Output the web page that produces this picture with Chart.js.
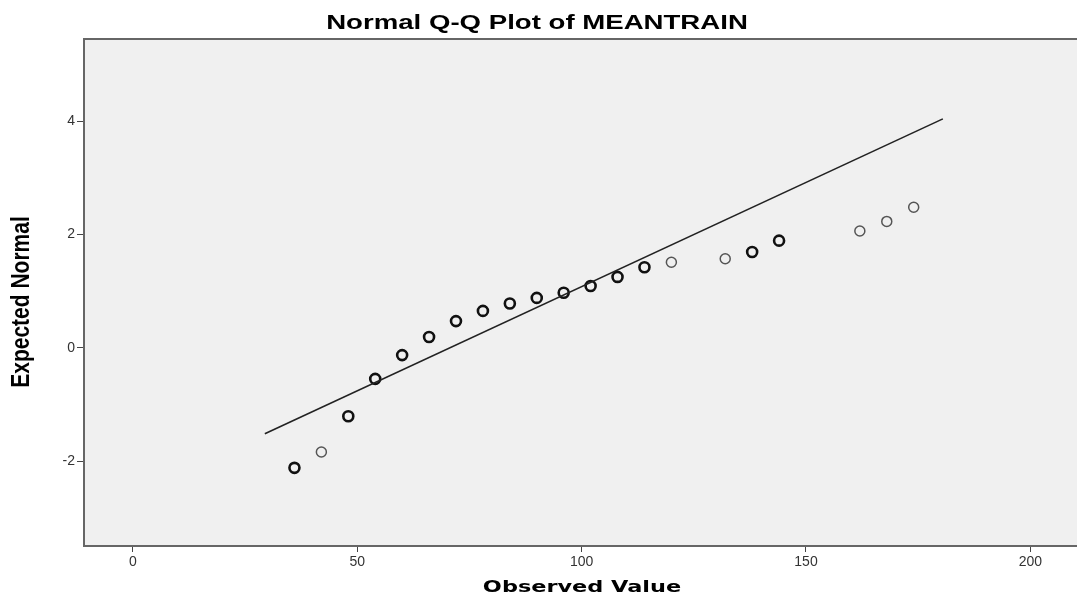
<!DOCTYPE html>
<html>
<head>
<meta charset="utf-8">
<script src="https://cdn.jsdelivr.net/npm/chart.js@4.4.0/dist/chart.umd.min.js"></script>
<style>
  html, body { margin: 0; padding: 0; background: #fff; }
  #wrap { width: 1077px; height: 598px; position: relative; }
</style>
</head>
<body>
<div id="wrap"><canvas id="qq"></canvas></div>
<script>
const observed = [36, 42, 48, 54, 60, 66, 72, 78, 84, 90, 96, 102, 108, 114, 120, 132, 138, 144, 162, 168, 174];
const expected = [-2.12, -1.84, -1.21, -0.55, -0.13, 0.19, 0.47, 0.65, 0.78, 0.88, 0.97, 1.09, 1.25, 1.42, 1.51, 1.57, 1.69, 1.89, 2.06, 2.23, 2.48];
// points drawn lighter (single cases)
const lightPoint = [false, true, false, false, false, false, false, false, false, false, false, false, false, false, true, true, false, false, true, true, true];
// reference line end points
const lineX = [29.4, 180.5];
const lineY = [-1.52, 4.04];
const xTicks = [0, 50, 100, 150, 200];
const yTicks = [-2, 0, 2, 4];

const ctx = document.getElementById('qq').getContext('2d');

const points = observed.map((v, i) => ({ x: v, y: expected[i] }));
const line = lineX.map((v, i) => ({ x: v, y: lineY[i] }));

// text is a bit stretched sideways in the original
function stretchedText(c, text, x, y, font, sx, sy, rot) {
    c.save();
    c.translate(x, y);
    if (rot) c.rotate(rot);
    c.scale(sx, sy);
    c.font = font;
    c.fillStyle = '#000';
    c.textAlign = 'center';
    c.textBaseline = 'middle';
    c.fillText(text, 0, 0);
    c.restore();
}

// plot background, frame and the titles
const frame = {
    id: 'frame',
    beforeDatasetsDraw(chart) {
        const a = chart.chartArea;
        const c = chart.ctx;
        c.save();
        c.fillStyle = '#f0f0f0';
        c.fillRect(a.left, a.top, chart.width - a.left, a.bottom - a.top);
        c.restore();
    },
    afterDatasetsDraw(chart) {
        const a = chart.chartArea;
        const c = chart.ctx;
        c.save();
        c.strokeStyle = '#666';
        c.lineWidth = 2;
        c.beginPath();
        c.moveTo(chart.width, a.top);
        c.lineTo(a.left, a.top);
        c.lineTo(a.left, a.bottom);
        c.lineTo(chart.width, a.bottom);
        c.stroke();
        c.restore();
        stretchedText(c, 'Normal Q-Q Plot of MEANTRAIN', 537, 23, 'bold 20px "Liberation Sans", Arial, sans-serif', 1.38, 1, 0);
        stretchedText(c, 'Observed Value', 582, 588, 'bold 16px "DejaVu Sans", Verdana, sans-serif', 1.4, 1, 0);
        stretchedText(c, 'Expected Normal', 22, 302, 'bold 21px "Liberation Sans", Arial, sans-serif', 1, 1.2, -Math.PI / 2);
    }
};

new Chart(ctx, {
    data: {
        datasets: [{
            type: 'line',
            data: line,
            borderColor: '#222',
            borderWidth: 1.6,
            pointRadius: 0,
            fill: false
        },
        {
            type: 'scatter',
            data: points,
            pointStyle: 'circle',
            pointRadius: 5,
            backgroundColor: 'rgba(0,0,0,0)',
            borderColor: lightPoint.map(l => l ? '#555' : '#111'),
            borderWidth: lightPoint.map(l => l ? 1.5 : 2.6)
        }]
    },
    options: {
        responsive: true,
        maintainAspectRatio: false,
        animation: false,
        layout: { padding: { top: 39, right: 0, left: 0, bottom: 0 } },
        plugins: {
            legend: { display: false },
            tooltip: { enabled: false }
        },
        scales: {
            x: {
                type: 'linear',
                min: -10.9,
                max: 208.7,
                afterBuildTicks: axis => { axis.ticks = xTicks.map(v => ({ value: v })); },
                afterFit: axis => { axis.height = 52; },
                grid: { display: true, drawOnChartArea: false, drawTicks: true, tickLength: 6, color: '#444' },
                border: { display: false },
                ticks: { color: '#333', font: { family: '"Liberation Sans", Arial, sans-serif', size: 14 }, padding: 2, maxRotation: 0 }
            },
            y: {
                type: 'linear',
                min: -3.5,
                max: 5.45,
                afterBuildTicks: axis => { axis.ticks = yTicks.map(v => ({ value: v })); },
                afterFit: axis => { axis.width = 84; },
                grid: { display: true, drawOnChartArea: false, drawTicks: true, tickLength: 7, color: '#444' },
                border: { display: false },
                ticks: { color: '#333', font: { family: '"Liberation Sans", Arial, sans-serif', size: 14 }, padding: 2 }
            }
        }
    },
    plugins: [frame]
});
</script>
</body>
</html>
